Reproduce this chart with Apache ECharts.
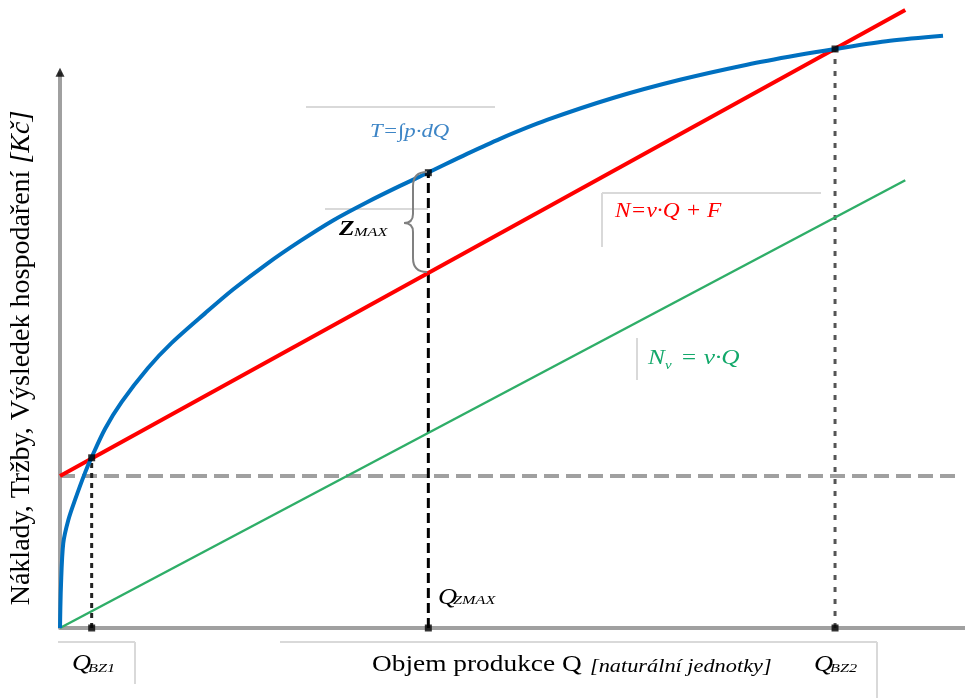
<!DOCTYPE html>
<html>
<head>
<meta charset="utf-8">
<script src="https://cdn.jsdelivr.net/npm/echarts@6/dist/echarts.min.js"></script>
<style>
  html, body { margin: 0; padding: 0; background: #fff; }
  #main { width: 965px; height: 698px; }
</style>
</head>
<body>
<div id="main"></div>
<script>
// values (x = quantity Q, y = costs / revenue), 0..100 units
const fixedCost = [[0, 24.2], [99.4, 24.2]];          // F
const totalCost = [[0, 24.2], [93.4, 98.4]];          // N = v·Q + F
const variableCost = [[0, 0], [93.4, 71.3]];          // Nv = v·Q
const revenue = [                                     // T = ∫p·dQ
  [0, 0], [0.11, 6.85], [0.36, 13.5], [0.92, 17.2], [1.66, 20.4], [2.76, 24.7],
  [3.5, 27.2], [4.97, 31.7], [6.82, 36.0], [9.72, 41.4], [12.34, 45.4],
  [16.02, 50.1], [19.12, 53.9], [22.87, 58.0], [26.52, 61.6], [30.17, 64.9],
  [33.92, 67.8], [37.57, 70.4], [40.66, 72.5], [44.97, 75.5], [48.62, 77.9],
  [53.81, 80.9], [61.1, 84.4], [68.5, 87.3], [75.91, 89.7], [81.44, 91.2],
  [85.64, 92.2], [91.71, 93.5], [97.57, 94.3]
];
const keyQ = [3.5, 40.7, 85.64];     // Q_BZ1, Q_ZMAX, Q_BZ2
const keyT = [27.1, 72.5, 92.2];
const yAxisTop = 88.5;

var chart = echarts.init(document.getElementById('main'));

function guide(i, color, dash) {
  return {
    type: 'line', data: [[keyQ[i], 0], [keyQ[i], keyT[i]]],
    symbol: 'none', silent: true, z: 3,
    lineStyle: { color: color, width: 3, type: dash }
  };
}

var dots = [];
keyQ.forEach(function (q, i) { dots.push([q, keyT[i]]); dots.push([q, 0]); });

var serif = '"Liberation Serif", "DejaVu Serif", serif';
function txt(x, y, text, font, color, sx) {
  return {
    type: 'text', x: x, y: y, scaleX: sx || 1, z: 100,
    style: { text: text, font: font, fill: color || '#000', align: 'left', verticalAlign: 'middle' }
  };
}
function hline(x1, x2, y) {
  return { type: 'line', shape: { x1: x1, y1: y, x2: x2, y2: y }, style: { stroke: '#d9d9d9', lineWidth: 2 }, z: 1 };
}
function vline(x, y1, y2) {
  return { type: 'line', shape: { x1: x, y1: y1, x2: x, y2: y2 }, style: { stroke: '#d9d9d9', lineWidth: 2 }, z: 1 };
}
// curly brace next to Z_MAX
function bseg(x1, y1, cx, cy, x2, y2) {
  return { type: 'bezierCurve', z: 50, shape: { x1: x1, y1: y1, cpx1: cx, cpy1: cy, x2: x2, y2: y2 },
    style: { stroke: '#808080', lineWidth: 2, fill: null } };
}
function lseg(x1, y1, x2, y2) {
  return { type: 'line', z: 50, shape: { x1: x1, y1: y1, x2: x2, y2: y2 }, style: { stroke: '#808080', lineWidth: 2 } };
}

var option = {
  animation: false,
  backgroundColor: '#fff',
  grid: { left: 60, right: 0, top: 0, bottom: 70 },
  xAxis: {
    type: 'value', min: 0, max: 100,
    axisLine: { lineStyle: { color: '#a0a0a0', width: 4 } },
    axisTick: { show: false }, axisLabel: { show: false }, splitLine: { show: false }
  },
  yAxis: {
    type: 'value', min: 0, max: 100,
    axisLine: { show: false }, axisTick: { show: false },
    axisLabel: { show: false }, splitLine: { show: false }
  },
  series: [
    { type: 'line', data: [[0, 0], [0, yAxisTop]], symbol: 'none', silent: true, z: 1,
      lineStyle: { color: '#a0a0a0', width: 4 } },
    { type: 'scatter', data: [[0, yAxisTop]], symbol: 'triangle', symbolSize: [9, 9], z: 2,
      itemStyle: { color: '#000' } },
    { type: 'line', data: fixedCost, symbol: 'none', z: 2,
      lineStyle: { color: '#a0a0a0', width: 4, type: [15, 7] } },
    { type: 'line', data: variableCost, symbol: 'none', z: 4,
      lineStyle: { color: '#2fae68', width: 2.5 } },
    { type: 'line', data: totalCost, symbol: 'none', z: 5,
      lineStyle: { color: '#ff0000', width: 4 } },
    { type: 'line', data: revenue, symbol: 'none', smooth: 0.3, z: 6,
      lineStyle: { color: '#0070c0', width: 4, join: 'round' } },
    guide(0, '#222', [5, 5]),
    guide(1, '#000', [10, 5]),
    guide(2, '#555', [5, 7]),
    { type: 'scatter', data: dots, symbol: 'rect', symbolSize: 7, z: 10,
      itemStyle: { color: '#000' } }
  ],
  graphic: [
    hline(306, 495, 107), hline(325, 428, 209),
    hline(602, 821, 193), vline(602, 193, 247),
    vline(637, 338, 380),
    hline(58, 135, 642), vline(135, 642, 684),
    hline(280, 877, 642), vline(877, 642, 698),
    bseg(427, 172, 413, 172, 413, 186), lseg(413, 186, 413, 214),
    bseg(413, 214, 413, 223, 404, 223), bseg(404, 223, 413, 223, 413, 232),
    lseg(413, 232, 413, 258), bseg(413, 258, 413, 272, 427, 272),
    { type: 'text', x: 22, y: 358, rotation: Math.PI / 2, z: 100,
      style: {
        text: '{n|Náklady, Tržby, Výsledek hospodaření }{i|[Kč]}',
        align: 'center', verticalAlign: 'middle',
        rich: { n: { font: '28px ' + serif, fill: '#000' }, i: { font: 'italic 28px ' + serif, fill: '#000' } }
      } },
    txt(372, 665, 'Objem produkce Q', '24px ' + serif, '#000', 1.14),
    txt(590, 667, '[naturální jednotky]', 'italic 18px ' + serif, '#000', 1.24),
    txt(370, 132, 'T=∫p·dQ', 'italic 19px ' + serif, '#3d85c6', 1.2),
    txt(615, 212, 'N=v·Q + F', 'italic 20px ' + serif, '#ff0000', 1.17),
    txt(648, 358, 'N', 'italic 22px ' + serif, '#12a86a', 1.15),
    txt(665, 366, 'v', 'italic 13px ' + serif, '#12a86a', 1.15),
    txt(674, 358, ' = v·Q', 'italic 22px ' + serif, '#12a86a', 1.15),
    txt(339, 229, 'Z', 'bold italic 22px ' + serif, '#000', 1.15),
    txt(354, 233, 'MAX', 'italic 13px ' + serif, '#000', 1.25),
    txt(438, 598, 'Q', 'italic 24px ' + serif, '#000', 1.1),
    txt(453, 601, 'ZMAX', 'italic 13px ' + serif, '#000', 1.25),
    txt(72, 664, 'Q', 'italic 24px ' + serif, '#000', 1.1),
    txt(88, 669, 'BZ1', 'italic 13px ' + serif, '#000', 1.25),
    txt(814, 665, 'Q', 'italic 24px ' + serif, '#000', 1.1),
    txt(830, 669, 'BZ2', 'italic 13px ' + serif, '#000', 1.25)
  ]
};
chart.setOption(option);
</script>
</body>
</html>
